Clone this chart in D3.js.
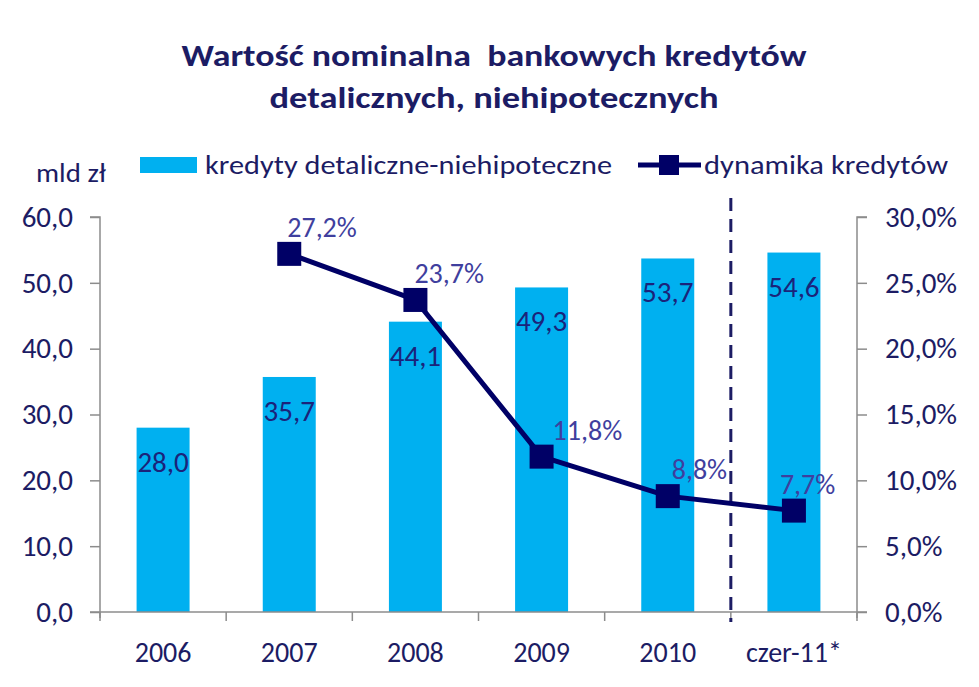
<!DOCTYPE html>
<html>
<head>
<meta charset="utf-8">
<script src="https://cdn.jsdelivr.net/npm/d3@7"></script>
<style>
  html, body { margin: 0; padding: 0; background: #fff; }
  svg { display: block; font-family: Carlito, Calibri, Lato, "Open Sans", sans-serif; }
</style>
</head>
<body>
<svg id="chart" width="979" height="687"></svg>
<script>
// ---- data ----
const categories = ["2006", "2007", "2008", "2009", "2010", "czer-11*"];
const credits = [28.0, 35.7, 44.1, 49.3, 53.7, 54.6];          // mld zł
const dynamics = [null, 27.2, 23.7, 11.8, 8.8, 7.7];            // %
const leftTicks = [0, 10, 20, 30, 40, 50, 60];
const rightTicks = [0, 5, 10, 15, 20, 25, 30];
const titleLines = ["Wartość nominalna  bankowych kredytów", "detalicznych, niehipotecznych"];
const seriesNames = ["kredyty detaliczne-niehipoteczne", "dynamika kredytów"];
const unitLabel = "mld zł";

(function () {
// ---- styles ----
const C = {
  bar: "#00B0F0",
  line: "#000066",
  text: "#1C1C64",
  barLabel: "#1B237A",
  lineLabel: "#3F3F9E",
  axis: "#8C8C8C"
};
const fmt1 = v => v.toFixed(1).replace(".", ",");

const svg = d3.select("#chart");
const pLeft = 100, pRight = 857, pTop = 217, pBottom = 612;

const x = d3.scaleBand().domain(categories).range([pLeft, pRight])
  .paddingInner(0.58).paddingOuter(0.29);
const xb = d3.scaleBand().domain(categories).range([pLeft, pRight]).padding(0);
const y = d3.scaleLinear().domain([0, 60]).range([pBottom, pTop]);
const y2 = d3.scaleLinear().domain([0, 30]).range([pBottom, pTop]);

// title
svg.append("g").selectAll("text").data(titleLines).join("text")
  .attr("x", 494).attr("y", (d, i) => 66 + i * 42)
  .attr("text-anchor", "middle")
  .style("white-space", "pre")
  .attr("font-size", 31).attr("font-weight", "bold").attr("fill", C.text)
  .attr("textLength", (d, i) => i === 0 ? 625 : 449)
  .attr("lengthAdjust", "spacingAndGlyphs")
  .text(d => d);

// unit
svg.append("text").attr("x", 36).attr("y", 182)
  .attr("font-size", 26).attr("fill", C.text)
  .attr("textLength", 70).attr("lengthAdjust", "spacingAndGlyphs").text(unitLabel);

// legend
const lg = svg.append("g");
lg.append("rect").attr("x", 140).attr("y", 157).attr("width", 57).attr("height", 16).attr("fill", C.bar);
lg.append("text").attr("x", 205).attr("y", 174).attr("font-size", 26).attr("fill", C.text)
  .attr("textLength", 407).attr("lengthAdjust", "spacingAndGlyphs").text(seriesNames[0]);
lg.append("line").attr("x1", 638).attr("x2", 701).attr("y1", 165).attr("y2", 165)
  .attr("stroke", C.line).attr("stroke-width", 5);
lg.append("rect").attr("x", 659).attr("y", 155).attr("width", 20).attr("height", 20).attr("fill", C.line);
lg.append("text").attr("x", 704).attr("y", 174).attr("font-size", 26).attr("fill", C.text)
  .attr("textLength", 244).attr("lengthAdjust", "spacingAndGlyphs").text(seriesNames[1]);

// axes
const yAxis = d3.axisLeft(y).tickValues(leftTicks).tickSize(10).tickPadding(17).tickFormat(fmt1);
const gy = svg.append("g").attr("transform", `translate(${pLeft},0)`).call(yAxis);
const y2Axis = d3.axisRight(y2).tickValues(rightTicks).tickSize(10).tickPadding(18).tickFormat(d => fmt1(d) + "%");
const gy2 = svg.append("g").attr("transform", `translate(${pRight},0)`).call(y2Axis);
[[gy, -10], [gy2, 10]].forEach(([g, s]) => {
  g.attr("font-family", null);
  g.select(".domain").attr("stroke", C.axis).attr("stroke-width", 1.5)
    .attr("d", `M${s},${pTop}H0V${pBottom + 6}`);
  g.selectAll(".tick line").attr("stroke", C.axis).attr("stroke-width", 1.5);
  g.selectAll(".tick text").attr("fill", C.text).attr("font-size", 29);
});

// bars
svg.append("g").selectAll("rect").data(categories).join("rect")
  .attr("x", d => x(d)).attr("width", x.bandwidth())
  .attr("y", (d, i) => y(credits[i])).attr("height", (d, i) => y(0) - y(credits[i]))
  .attr("fill", C.bar);

// x axis
const xAxisG = svg.append("g");
xAxisG.append("line").attr("x1", pLeft - 10).attr("x2", pRight + 10).attr("y1", pBottom).attr("y2", pBottom)
  .attr("stroke", C.axis).attr("stroke-width", 1.5);
const bounds = categories.map(c => xb(c)).concat([pRight]);
xAxisG.selectAll("line.tk").data(bounds).join("line").attr("class", "tk")
  .attr("x1", d => d).attr("x2", d => d).attr("y1", pBottom).attr("y2", pBottom + 9)
  .attr("stroke", C.axis).attr("stroke-width", 1.5);
xAxisG.selectAll("text").data(categories).join("text")
  .attr("x", d => xb(d) + xb.bandwidth() / 2).attr("y", 662)
  .attr("text-anchor", "middle").attr("font-size", 28).attr("fill", C.text)
  .text(d => d);

// dashed separator between 2010 and czer-11*
const sepX = xb(categories[5]);
svg.append("line").attr("x1", sepX).attr("x2", sepX).attr("y1", 198).attr("y2", 622)
  .attr("stroke", C.text).attr("stroke-width", 3).attr("stroke-dasharray", "13,8");

// bar labels
svg.append("g").selectAll("text").data(categories).join("text")
  .attr("x", d => x(d) + x.bandwidth() / 2)
  .attr("y", (d, i) => y(credits[i]) + 44)
  .attr("text-anchor", "middle").attr("font-size", 29).attr("fill", C.barLabel)
  .text((d, i) => fmt1(credits[i]));

// line
const pts = categories.map((c, i) => ({ c, v: dynamics[i] })).filter(p => p.v != null);
const cx = c => xb(c) + xb.bandwidth() / 2;
svg.append("path").datum(pts)
  .attr("d", d3.line().x(p => cx(p.c)).y(p => y2(p.v)))
  .attr("fill", "none").attr("stroke", C.line).attr("stroke-width", 5).attr("stroke-linejoin", "round");
svg.append("g").selectAll("rect").data(pts).join("rect")
  .attr("x", p => cx(p.c) - 12).attr("y", p => y2(p.v) - 12)
  .attr("width", 24).attr("height", 24).attr("fill", C.line);

// line labels
const lblDx = [0, -2, -1, 11, 4, -14];
svg.append("g").selectAll("text").data(pts).join("text")
  .attr("x", p => cx(p.c) + lblDx[categories.indexOf(p.c)])
  .attr("y", p => y2(p.v) - 17)
  .attr("font-size", 28).attr("fill", C.lineLabel)
  .text(p => fmt1(p.v) + "%");
})();
</script>
</body>
</html>
